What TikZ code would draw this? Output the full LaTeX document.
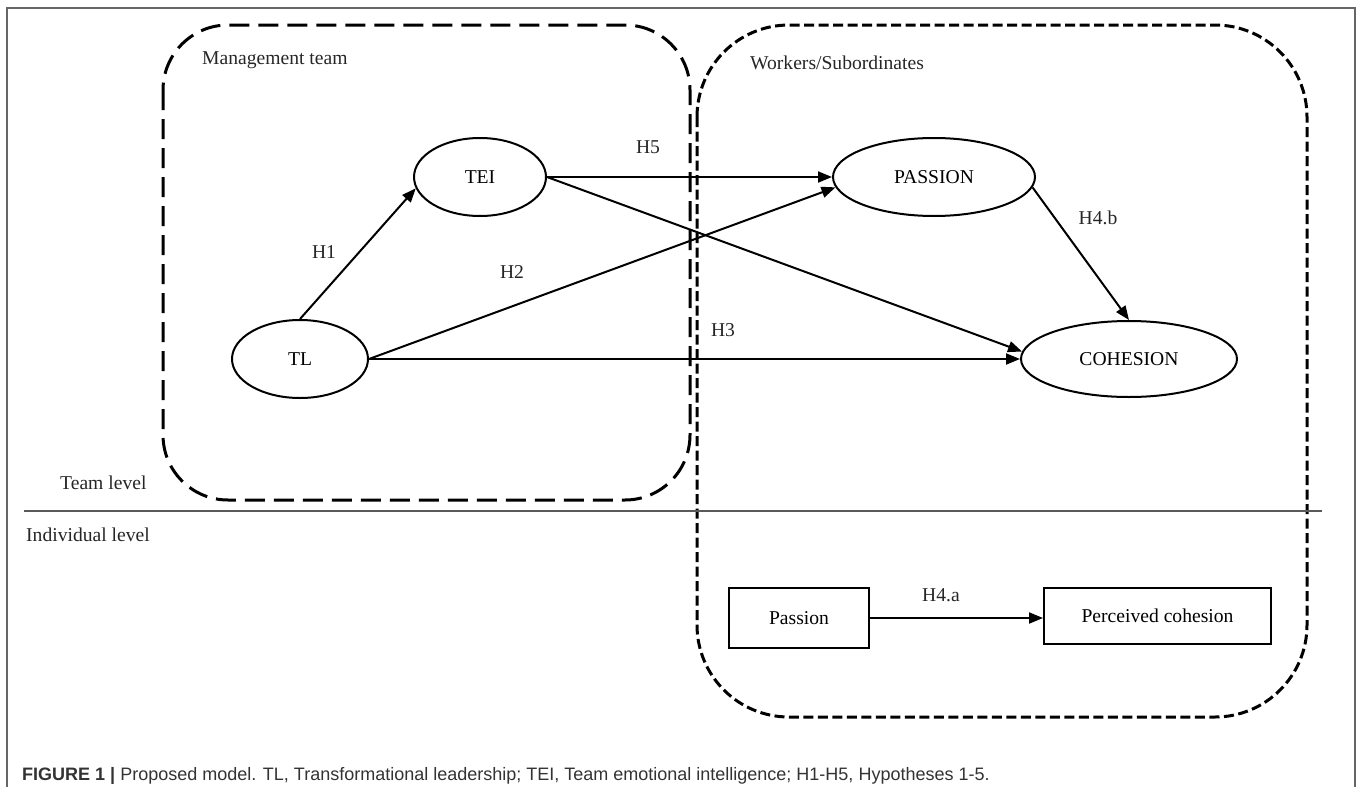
\documentclass[tikz,border=0pt]{standalone}
\usepackage{fontspec}
\setmainfont{Liberation Serif}
\newfontfamily\capfont{Liberation Sans}
\usetikzlibrary{shapes.geometric,arrows.meta}
\begin{document}
\begin{tikzpicture}[x=1pt,y=-1pt,
  txt/.style={font=\fontsize{19.6}{23}\selectfont, inner sep=0pt, text=black!85},
  ell/.style={draw, ellipse, line width=2pt, inner sep=0pt, font=\fontsize{19.6}{23}\selectfont},
  rbox/.style={draw, rectangle, line width=2pt, inner sep=0pt, font=\fontsize{19.6}{23}\selectfont},
  conn/.style={line width=2pt, -{Triangle[length=14pt,width=11pt]}},
  mgmt/.style={line width=3pt, dash pattern=on 20pt off 9pt, rounded corners=65pt},
  wrk/.style={line width=3pt, dash pattern=on 10pt off 4.5pt, rounded corners=92pt},
  frame/.style={draw=black!60, line width=2pt},
  sep/.style={draw=black!65, line width=1.5pt}]
\useasboundingbox (0,0) rectangle (1357,787);
% outer frame
\coordinate (f1) at (7,787);
\coordinate (f2) at (7,8);
\coordinate (f3) at (1355,8);
\coordinate (f4) at (1355,787);
\draw[frame] (f1) -- (f2) -- (f3) -- (f4);
% group boxes
\draw[mgmt] (163,25) rectangle (690,500);
\draw[wrk] (697,25) rectangle (1307,717);
% level separator
\coordinate (s1) at (24,511);
\coordinate (s2) at (1322,511);
\draw[sep] (s1) -- (s2);
% labels
\node[txt, anchor=west] (lmg) at (202,60) {Management team};
\node[txt, anchor=west] (lwk) at (750,63) {Workers/Subordinates};
\node[txt, anchor=west] (ltl) at (60,483) {Team level};
\node[txt, anchor=west] (lil) at (26,535) {Individual level};
% nodes
\node[ell, minimum width=132pt, minimum height=78pt] (TEI) at (480,177) {TEI};
\node[ell, minimum width=202pt, minimum height=78pt] (PAS) at (934,177) {PASSION};
\node[ell, minimum width=136pt, minimum height=78pt] (TL) at (300,359) {TL};
\node[ell, minimum width=216pt, minimum height=76pt] (COH) at (1129,359) {COHESION};
\node[rbox, minimum width=140pt, minimum height=60pt] (pb) at (799,618) {Passion};
\node[rbox, minimum width=227pt, minimum height=56pt] (pcb) at (1157.5,616) {Perceived cohesion};
% connectors
\draw[conn] (TL.north) -- (TEI.190);
\draw[conn] (TEI.east) -- (PAS.west);
\draw[conn] (TEI.east) -- (COH.176);
\draw[conn] (TL.east) -- (PAS.186);
\draw[conn] (TL.east) -- (COH.west);
\draw[conn] (PAS.354) -- (COH.north);
\draw[conn] (pb.east) -- (pb.east -| pcb.west);
% connector labels
\node[txt] (h1) at (324,252) {H1};
\node[txt] (h2) at (512,272) {H2};
\node[txt] (h3) at (723,330) {H3};
\node[txt] (h5) at (648,147) {H5};
\node[txt] (h4b) at (1098,218) {H4.b};
\node[txt] (h4a) at (941,595) {H4.a};
% caption
\node[anchor=west, inner sep=0pt, font=\capfont\fontsize{18}{21}\selectfont, text=black!80] (cap) at (22,776)
  {\textbf{FIGURE 1 |} Proposed model. TL, Transformational leadership; TEI, Team emotional intelligence; H1-H5, Hypotheses 1-5.};
\end{tikzpicture}
\end{document}
